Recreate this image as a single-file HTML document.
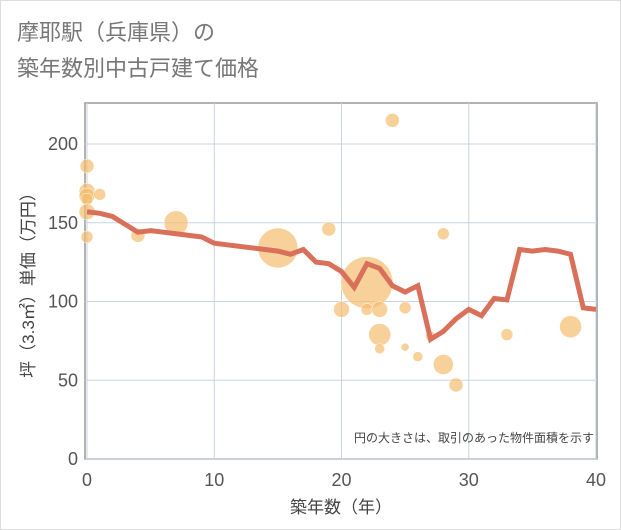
<!DOCTYPE html>
<html><head><meta charset="utf-8"><style>
body{margin:0;background:#fff;}
svg{display:block;font-family:"Liberation Sans","Noto Sans CJK JP",sans-serif;}
</style></head><body>
<svg width="621" height="530">
<rect x="0.5" y="0.5" width="620" height="529" fill="#fff" stroke="#ddd"/>
<text x="17" y="40" font-size="22" fill="#777">摩耶駅（兵庫県）の</text>
<text x="17" y="76" font-size="22" fill="#777">築年数別中古戸建て価格</text>
<g id="plot"></g>
<text x="594" y="442" font-size="12" fill="#444" text-anchor="end">円の大きさは、取引のあった物件面積を示す</text>
<text x="341" y="513" font-size="17" fill="#444" text-anchor="middle">築年数（年）</text>
<text transform="translate(34,281) rotate(-90)" font-size="17" fill="#444" text-anchor="middle">坪（3.3㎡）単価（万円）</text>
</svg>
<script>
const xTicks=[0,10,20,30,40];
const yTicks=[0,50,100,150,200];
const lineYears=[0,1,2,3,4,5,6,7,8,9,10,11,12,13,14,15,16,17,18,19,20,21,22,23,24,25,26,27,28,29,30,31,32,33,34,35,36,37,38,39,40];
const lineValues=[157,156,154,149,144,145,144,143,142,141,137,136,135,134,133,132,130,133,125,124,119,109,124,121,110,106,110,76,81,89,95,91,102,101,133,132,133,132,130,96,95];
const bubbleYears=[0,0,0,0,0,0,1,4,7,15,19,22,24,28,20,22,23,25,23,23,25,26,28,29,33,38,27];
const bubbleValues=[186,170,167,165,157,141,168,142,150,134,146,112,215,143,95,95,95,96,79,70,71,65,60,47,79,84,78];
const bubbleSizes=[7,8,8,6,8,6,6,7,12,20,7,26,7,6,8,6,8,6,11,5,4,5,10,7,6,11,5];
const X0=87,X1=596,Y0=459,Y1=144;
const sx=v=>X0+(v-0)/40*(X1-X0);
const sy=v=>Y0-(v/200)*(Y0-Y1);
const NS="http://www.w3.org/2000/svg";
const g=document.getElementById('plot');
function mk(t,a){const e=document.createElementNS(NS,t);for(const k in a)e.setAttribute(k,a[k]);g.appendChild(e);return e;}
const bg=mk('rect',{x:85,y:103,width:512,height:356,fill:'#fff',stroke:'#999','stroke-width':1.5});


xTicks.forEach(t=>{
 const l=mk('line',{x1:sx(t),x2:sx(t),y1:103,y2:459,stroke:'#c8d4e2','stroke-width':1});
 
 
 const tx=mk('text',{x:sx(t),y:486,'font-size':18,fill:'#555','text-anchor':'middle'});
 tx.textContent=t;
 
 
});
yTicks.forEach(t=>{
 const l=mk('line',{x1:85,x2:597,y1:sy(t),y2:sy(t),stroke:'#c8d4e2','stroke-width':1});
 
 
 const tx=mk('text',{x:78,y:sy(t)+6,'font-size':18,fill:'#555','text-anchor':'end'});
 tx.textContent=t;
 
 
});
bubbleYears.forEach((yr,i)=>{
 const c=mk('circle',{cx:sx(yr),cy:sy(bubbleValues[i]),r:bubbleSizes[i],fill:'#f3bd6e','fill-opacity':0.7,stroke:'#fff','stroke-width':0.5});
 
 
});
const pts=lineYears.map((yr,i)=>sx(yr)+','+sy(lineValues[i])).join(' ');
const pl=mk('polyline',{points:pts,fill:'none',stroke:'#d8705a','stroke-width':5,'stroke-linejoin':'miter'});


</script>
</body></html>
